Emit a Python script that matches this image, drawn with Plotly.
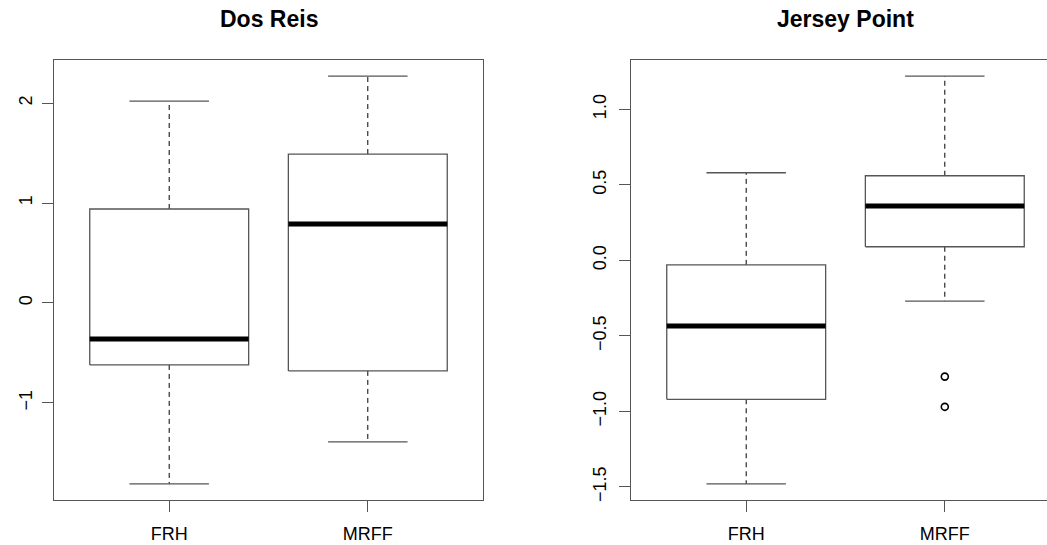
import plotly.graph_objects as go

# ---------------- data ----------------
categories = ["FRH", "MRFF"]
positions = [1, 2]

# Dos Reis
dr_low = [-1.81, -1.39]
dr_q1 = [-0.62, -0.68]
dr_med = [-0.36, 0.79]
dr_q3 = [0.94, 1.49]
dr_high = [2.02, 2.27]
dr_outliers = [[], []]

# Jersey Point
jp_low = [-1.48, -0.27]
jp_q1 = [-0.92, 0.09]
jp_med = [-0.435, 0.36]
jp_q3 = [-0.03, 0.56]
jp_high = [0.58, 1.22]
jp_outliers = [[], [-0.77, -0.97]]

titles = ["Dos Reis", "Jersey Point"]
y_ticks = [[-1, 0, 1, 2], [-1.5, -1.0, -0.5, 0.0, 0.5, 1.0]]
y_ticktext = [["\u22121", "0", "1", "2"], ["\u22121.5", "\u22121.0", "\u22120.5", "0.0", "0.5", "1.0"]]

# ---------------- style ----------------
W, H = 1047, 545
FONT = "Liberation Sans, Arial, Helvetica, sans-serif"
BOXC = "#555555"
BOXW = 0.8
CAPW = 0.4

fig = go.Figure()

panels = [
    (dr_low, dr_q1, dr_med, dr_q3, dr_high, dr_outliers),
    (jp_low, jp_q1, jp_med, jp_q3, jp_high, jp_outliers),
]

for k, (lo, q1, med, q3, hi, outl) in enumerate(panels):
    xa = "x" if k == 0 else "x2"
    ya = "y" if k == 0 else "y2"
    for i, p in enumerate(positions):
        # whiskers (dashed)
        fig.add_trace(go.Scatter(x=[p, p, None, p, p], y=[q3[i], hi[i], None, q1[i], lo[i]],
                                 mode="lines", line=dict(color="black", width=1, dash="5px,4px"),
                                 xaxis=xa, yaxis=ya, showlegend=False, hoverinfo="skip"))
        # caps
        fig.add_trace(go.Scatter(x=[p - CAPW / 2, p + CAPW / 2, None, p - CAPW / 2, p + CAPW / 2],
                                 y=[hi[i], hi[i], None, lo[i], lo[i]],
                                 mode="lines", line=dict(color=BOXC, width=1.3),
                                 xaxis=xa, yaxis=ya, showlegend=False, hoverinfo="skip"))
        # box
        fig.add_trace(go.Scatter(x=[p - BOXW / 2, p + BOXW / 2, p + BOXW / 2, p - BOXW / 2, p - BOXW / 2],
                                 y=[q1[i], q1[i], q3[i], q3[i], q1[i]],
                                 mode="lines", line=dict(color=BOXC, width=1.3),
                                 xaxis=xa, yaxis=ya, showlegend=False, hoverinfo="skip"))
        # median
        fig.add_trace(go.Scatter(x=[p - BOXW / 2, p + BOXW / 2], y=[med[i], med[i]],
                                 mode="lines", line=dict(color="black", width=5),
                                 xaxis=xa, yaxis=ya, showlegend=False, hoverinfo="skip"))
        # outliers
        if outl[i]:
            fig.add_trace(go.Scatter(x=[p] * len(outl[i]), y=outl[i], mode="markers",
                                     marker=dict(symbol="circle-open", size=7, color="black",
                                                 line=dict(width=1.6, color="black")),
                                     xaxis=xa, yaxis=ya, showlegend=False, hoverinfo="skip"))


def yrange(lo, hi, outl):
    vals = lo + hi + [v for o in outl for v in o]
    mn, mx = min(vals), max(vals)
    pad = 0.04 * (mx - mn)
    return [mn - pad, mx + pad]


ydom = [43 / H, 485 / H]
axis_common = dict(showgrid=False, zeroline=False, showline=True, linecolor=BOXC, linewidth=1.3,
                   ticks="outside", tickcolor=BOXC, tickwidth=1.3, ticklen=11,
                   tickfont=dict(family=FONT, size=18, color="black"))

fig.update_layout(
    xaxis=dict(domain=[54 / W, 483 / W], range=[0.42, 2.58], tickvals=positions, ticktext=categories,
               mirror=True, anchor="y", ticklabelstandoff=6, **axis_common),
    yaxis=dict(domain=ydom, range=yrange(dr_low, dr_high, dr_outliers), tickvals=y_ticks[0],
               ticktext=y_ticktext[0], tickangle=-90, mirror=True, anchor="x", ticklabelstandoff=3,
               **axis_common),
    xaxis2=dict(domain=[631 / W, 1.0], range=[0.42, 0.42 + 2.16 * (416 / 429)], tickvals=positions,
                ticktext=categories, mirror=True, anchor="y2", ticklabelstandoff=6, **axis_common),
    yaxis2=dict(domain=ydom, range=yrange(jp_low, jp_high, jp_outliers), tickvals=y_ticks[1],
                ticktext=y_ticktext[1], tickangle=-90, mirror=False, anchor="x2", ticklabelstandoff=6,
                **axis_common),
    width=W, height=H,
    margin=dict(l=0, r=0, t=0, b=0),
    paper_bgcolor="white", plot_bgcolor="white",
    showlegend=False,
    annotations=[
        dict(text="<b>%s</b>" % titles[0], x=268.5 / W, y=1 - 19 / H, xref="paper", yref="paper",
             xanchor="center", yanchor="middle", showarrow=False,
             font=dict(family=FONT, size=23, color="black")),
        dict(text="<b>%s</b>" % titles[1], x=845.5 / W, y=1 - 19 / H, xref="paper", yref="paper",
             xanchor="center", yanchor="middle", showarrow=False,
             font=dict(family=FONT, size=23, color="black")),
    ],
)

fig.write_html("out.html", config={"displayModeBar": False},
               post_script="document.body.style.margin='0';document.body.style.overflow='hidden';")
